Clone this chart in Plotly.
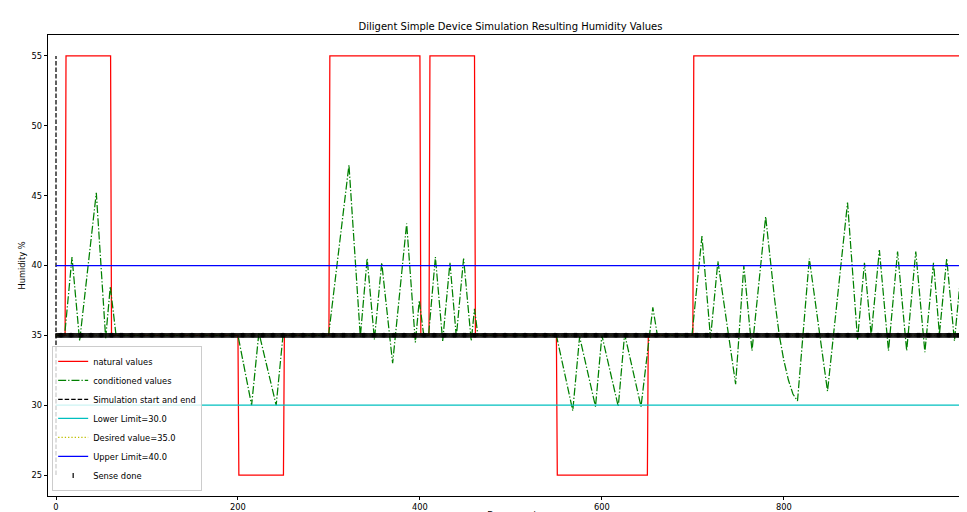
import plotly.graph_objects as go

# ---- data ----
natural_x = [0, 10, 11, 60, 61, 200, 201, 250, 251, 300, 301, 400, 401, 410, 411, 460, 461,
             550, 551, 650, 651, 700, 701, 1000, 1001, 1010]
natural_y = [35, 35, 55, 55, 35, 35, 25, 25, 35, 35, 55, 55, 35, 35, 55, 55, 35,
             35, 25, 25, 35, 35, 55, 55, 35, 35]

cond_x = [0, 9.5, 17.6, 26, 44.3, 54.6, 59.7, 66,
          200, 215, 223, 242, 249.5,
          299.6, 322, 334.5, 342, 350, 358, 370, 385.4, 395, 399.3, 404,
          409.5, 417, 425, 433, 440, 448, 456.4, 460, 463.7,
          550, 568, 575.5, 593, 600, 618, 625, 643, 656, 661,
          699, 710, 719.4, 727.5, 747, 756, 765, 780, 785, 790, 795, 800, 805, 810, 815,
          828, 848, 870, 881, 888.6, 896, 905, 915, 925, 935, 945, 955, 964.5, 971, 979,
          987.5, 995.6, 999]
cond_y = [35, 35, 40.6, 34.6, 45.2, 34.8, 38.5, 35,
          35, 30, 35.2, 30, 35,
          35, 47.2, 34.9, 40.5, 34.7, 40.2, 33.0, 43.0, 34.5, 37.5, 35.1,
          35, 40.6, 34.6, 40.2, 34.9, 40.5, 34.6, 36.9, 35,
          35, 29.6, 34.9, 29.9, 35, 29.9, 35.1, 29.9, 37.0, 35,
          35, 42.1, 34.8, 40.3, 31.5, 40.0, 33.9, 43.5, 40.5, 37.5, 35.0, 33.2, 31.8, 30.8, 30.3,
          40.5, 31.0, 44.5, 34.7, 40.2, 35.0, 41.1, 33.9, 41.0, 33.9, 41.0, 33.8, 40.2, 35.1, 40.5,
          34.6, 40.1, 36.8]

sim_start, sim_end = 0, 1000
limit_low, desired, limit_high = 30.0, 35.0, 40.0
y_span = [25, 55]
sense_times = list(range(0, 1000))

x_ticks = [0, 200, 400, 600, 800, 1000]
y_ticks = [25, 30, 35, 40, 45, 50, 55]

FONT = "DejaVu Sans"
fig = go.Figure()

fig.add_trace(go.Scatter(x=natural_x, y=natural_y, mode="lines", name="natural values",
                         line=dict(color="#ff0000", width=1.25)))
fig.add_trace(go.Scatter(x=cond_x, y=cond_y, mode="lines", name="conditioned values",
                         line=dict(color="#008000", width=1.25, dash="8px,2px,1.3px,2px")))
fig.add_trace(go.Scatter(x=[sim_start, sim_start, None, sim_end, sim_end],
                         y=[y_span[0], y_span[1], None, y_span[0], y_span[1]],
                         mode="lines", name="Simulation start and end",
                         line=dict(color="black", width=1.25, dash="4.5px,2px")))
fig.add_trace(go.Scatter(x=[sim_start, sim_end], y=[limit_low, limit_low], mode="lines",
                         name="Lower Limit=30.0", line=dict(color="#00bfbf", width=1.25)))
fig.add_trace(go.Scatter(x=[sim_start, sim_end], y=[desired, desired], mode="lines",
                         name="Desired value=35.0",
                         line=dict(color="#bfbf00", width=1.25, dash="1.3px,2px")))
fig.add_trace(go.Scatter(x=[sim_start, sim_end], y=[limit_high, limit_high], mode="lines",
                         name="Upper Limit=40.0", line=dict(color="#0000ff", width=1.25)))
fig.add_trace(go.Scatter(x=sense_times, y=[desired] * len(sense_times), mode="markers",
                         name="Sense done",
                         marker=dict(symbol="line-ns", size=3.5, color="black",
                                     line=dict(color="black", width=1.2))))

fig.update_layout(
    width=967, height=512,
    margin=dict(l=40, r=0, t=27, b=24, autoexpand=False),
    paper_bgcolor="white", plot_bgcolor="white",
    font=dict(family=FONT, size=8.3, color="black"),
    title=dict(text="Diligent Simple Device Simulation Resulting Humidity Values",
               x=502.5 / 967, xanchor="center", y=1 - 18 / 512, yanchor="middle",
               font=dict(size=10, family=FONT)),
    showlegend=True,
    legend=dict(x=0.0045, y=0.011, xanchor="left", yanchor="bottom",
                bgcolor="rgba(255,255,255,0.8)", bordercolor="#cccccc", borderwidth=1,
                font=dict(size=8.3, family=FONT), tracegroupgap=0),
)
fig.update_xaxes(range=[-8.79, 1010.1], tickvals=x_ticks, ticks="outside", ticklen=3.5,
                 tickcolor="black", showline=True, linecolor="black", linewidth=0.8,
                 mirror=True, showgrid=False, zeroline=False, automargin=False,
                 title=dict(text="Day second", standoff=2, font=dict(size=8.3)))
fig.update_yaxes(range=[23.5, 56.5], tickvals=y_ticks, ticks="outside", ticklen=3.5,
                 tickcolor="black", showline=True, linecolor="black", linewidth=0.8,
                 mirror=True, showgrid=False, zeroline=False, automargin=False,
                 title=dict(text="Humidity %", standoff=4, font=dict(size=8.3)))

fig.write_html("out.html")
